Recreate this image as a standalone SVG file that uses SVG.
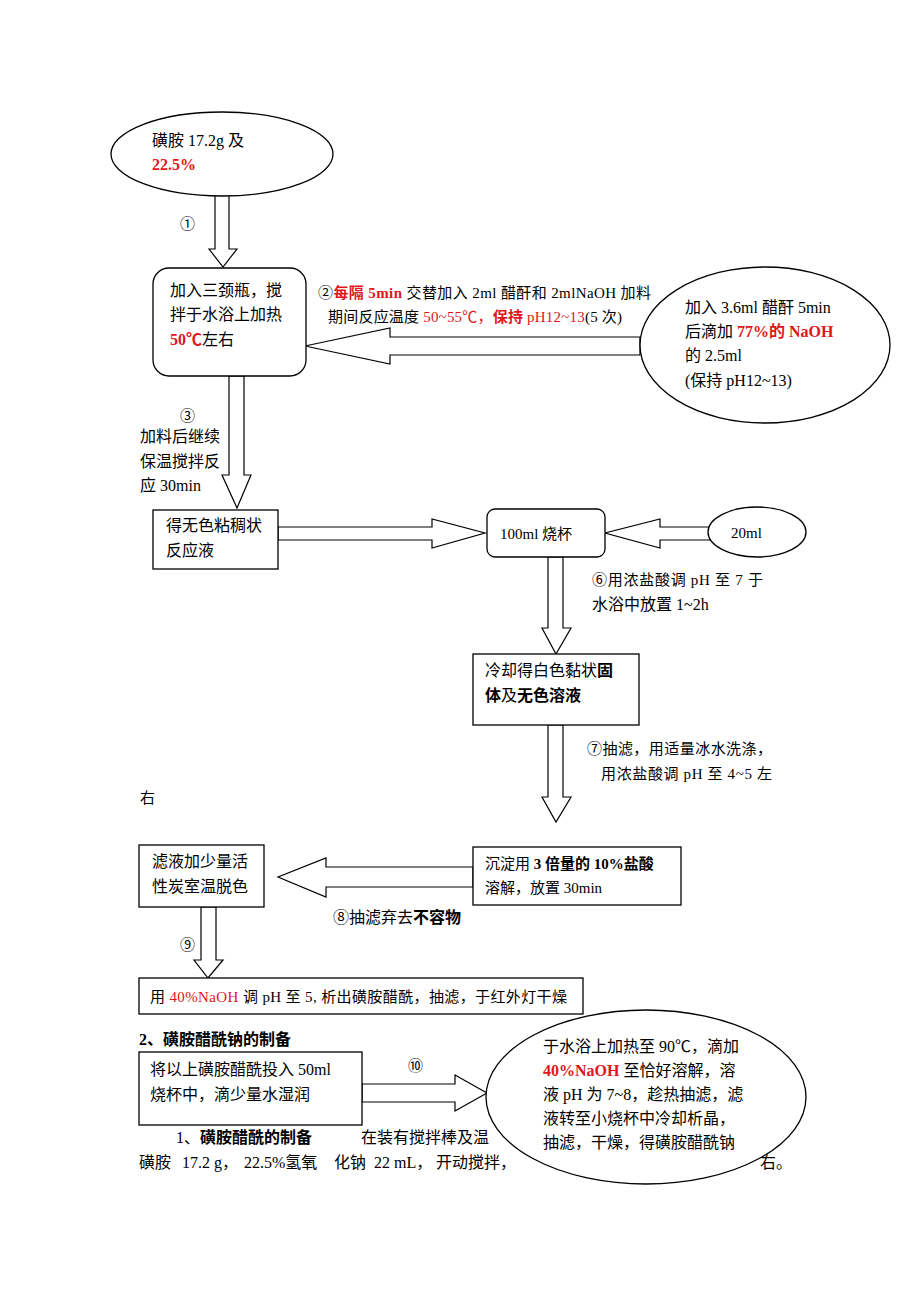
<svg xmlns="http://www.w3.org/2000/svg" width="920" height="1302" viewBox="0 0 920 1302">
<style>
.t{font-family:"Liberation Serif","Noto Sans CJK SC",serif;font-size:16px;fill:#000}
.f{font-size:15px}
.h{font-family:"Liberation Serif","Noto Sans CJK SC",serif;font-size:16px;fill:#000}
.r{fill:#e0161b}
.b{font-weight:bold}
.s{fill:#fff;stroke:#000;stroke-width:1.3}
.a{fill:#fff;stroke:#000;stroke-width:1.2;stroke-linejoin:miter}
</style>
<rect width="920" height="1302" fill="#fff"/>
<g id="body-text">
<text class="h" x="176" y="1143">1、<tspan class="b">磺胺醋酰的制备</tspan></text>
<text class="h" x="361" y="1143">在装有搅拌棒及温</text>
<text class="h" y="1168"><tspan x="139">磺胺</tspan><tspan x="182">17.2 g，</tspan><tspan x="244">22.5%氢氧</tspan><tspan x="334">化钠</tspan><tspan x="374">22 mL，</tspan><tspan x="436">开动搅拌，</tspan></text>
<text class="h" x="760" y="1168">右。</text>
</g>
<g id="connectors">
<polygon class="a" points="215,195 229,195 229,249 237,249 223,267 209,249 215,249"/>
<text class="t f" x="180" y="229">①</text>
<polygon class="a" points="640,337 390,337 390,328 305,346 390,364 390,355 640,355"/>
<polygon class="a" points="229,376 244,376 244,475 251,475 237,508 222,475 229,475"/>
<polygon class="a" points="278,527 432,527 432,519 485,533 432,548 432,540 278,540"/>
<polygon class="a" points="710,527 660,527 660,519 605,533 660,548 660,540 710,540"/>
<polygon class="a" points="548,557 563,557 563,628 571,628 556,654 542,628 548,628"/>
<polygon class="a" points="548,725 563,725 563,797 571,797 556,822 542,797 548,797"/>
<polygon class="a" points="473,867 326,867 326,858 278,877 326,897 326,887 473,887"/>
<polygon class="a" points="201,907 216,907 216,960 223,960 208,978 194,960 201,960"/>
<polygon class="a" points="362,1084 455,1084 455,1075 487,1093 455,1111 455,1102 362,1102"/>
<text class="t f" x="318" y="298" textLength="333" lengthAdjust="spacing">②<tspan class="r b">每隔 5min</tspan> 交替加入 2ml 醋酐和 2mlNaOH 加料</text>
<text class="t f" x="328" y="322" textLength="294" lengthAdjust="spacing">期间反应温度 <tspan class="r">50~55℃，<tspan class="b">保持</tspan> pH12~13</tspan>(5 次)</text>
<text class="t f" x="180" y="421">③</text>
<text class="t" x="140" y="442">加料后继续</text>
<text class="t" x="140" y="467">保温搅拌反</text>
<text class="t" x="140" y="491">应 30min</text>
<text class="t f" x="592" y="585" textLength="171" lengthAdjust="spacing">⑥用浓盐酸调 pH 至 7 于</text>
<text class="t" x="592" y="610">水浴中放置 1~2h</text>
<text class="t f" x="587" y="754" textLength="185" lengthAdjust="spacing">⑦抽滤，用适量冰水洗涤，</text>
<text class="t f" x="601" y="779" textLength="171" lengthAdjust="spacing">用浓盐酸调 pH 至 4~5 左</text>
<text class="t f" x="140" y="803">右</text>
<text class="t" x="333" y="923">⑧抽滤弃去<tspan class="b">不容物</tspan></text>
<text class="t f" x="180" y="950">⑨</text>
<text class="t f" x="408" y="1071">⑩</text>
</g>
<g id="n1">
<ellipse class="s" cx="222" cy="154" rx="111" ry="42"/>
<text class="t" x="152" y="146">磺胺 17.2g 及</text>
<text class="t r b" x="152" y="170">22.5%</text>
</g>
<g id="n2">
<rect class="s" x="153" y="268" width="153" height="108" rx="16"/>
<text class="t" x="170" y="296">加入三颈瓶，搅</text>
<text class="t" x="170" y="320">拌于水浴上加热</text>
<text class="t" x="170" y="345"><tspan class="r b">50℃</tspan>左右</text>
</g>
<g id="n3">
<ellipse class="s" cx="765" cy="345" rx="125" ry="78"/>
<text class="t" x="685" y="313">加入 3.6ml 醋酐 5min</text>
<text class="t" x="685" y="337">后滴加 <tspan class="r b">77%的 NaOH</tspan></text>
<text class="t" x="685" y="361">的 2.5ml</text>
<text class="t" x="685" y="386">(保持 pH12~13)</text>
</g>
<g id="n4">
<rect class="s" x="153" y="510" width="125" height="59"/>
<text class="t" x="166" y="531">得无色粘稠状</text>
<text class="t" x="166" y="556">反应液</text>
</g>
<g id="n5">
<rect class="s" x="487" y="509" width="118" height="48" rx="8"/>
<text class="t f" x="500" y="539">100ml 烧杯</text>
</g>
<g id="n6">
<ellipse class="s" cx="757" cy="532" rx="49" ry="25"/>
<text class="t f" x="731" y="538">20ml</text>
</g>
<g id="n7">
<rect class="s" x="473" y="654" width="166" height="71"/>
<text class="t" x="485" y="676">冷却得白色黏状<tspan class="b">固</tspan></text>
<text class="t" x="485" y="701"><tspan class="b">体</tspan>及<tspan class="b">无色溶液</tspan></text>
</g>
<g id="n8">
<rect class="s" x="139" y="845" width="125" height="62"/>
<text class="t" x="152" y="867">滤液加少量活</text>
<text class="t" x="152" y="892">性炭室温脱色</text>
</g>
<g id="n9">
<rect class="s" x="473" y="847" width="208" height="58"/>
<text class="t f" x="485" y="869">沉淀用 <tspan class="b">3 倍量的 10%盐酸</tspan></text>
<text class="t f" x="485" y="893">溶解，放置 30min</text>
</g>
<g id="n10">
<rect class="s" x="139" y="978" width="444" height="36"/>
<text class="t f" x="150" y="1002" textLength="417" lengthAdjust="spacing">用 <tspan class="r">40%NaOH</tspan> 调 pH 至 5, 析出磺胺醋酰，抽滤，于红外灯干燥</text>
</g>
<g id="heading">
<text class="h b" x="139" y="1045" font-size="17.5">2、磺胺醋酰钠的制备</text>
</g>
<g id="n11">
<rect class="s" x="139" y="1052" width="223" height="73"/>
<text class="t" x="150" y="1075">将以上磺胺醋酰投入 50ml</text>
<text class="t" x="150" y="1100">烧杯中，滴少量水湿润</text>
</g>
<g id="n12">
<ellipse class="s" cx="646" cy="1097" rx="160" ry="87"/>
<text class="t" x="543" y="1052">于水浴上加热至 90℃，滴加</text>
<text class="t" x="543" y="1076"><tspan class="r b">40%NaOH</tspan> 至恰好溶解，溶</text>
<text class="t" x="543" y="1100">液 pH 为 7~8，趁热抽滤，滤</text>
<text class="t" x="543" y="1124">液转至小烧杯中冷却析晶，</text>
<text class="t" x="543" y="1148">抽滤，干燥，得磺胺醋酰钠</text>
</g>
</svg>
